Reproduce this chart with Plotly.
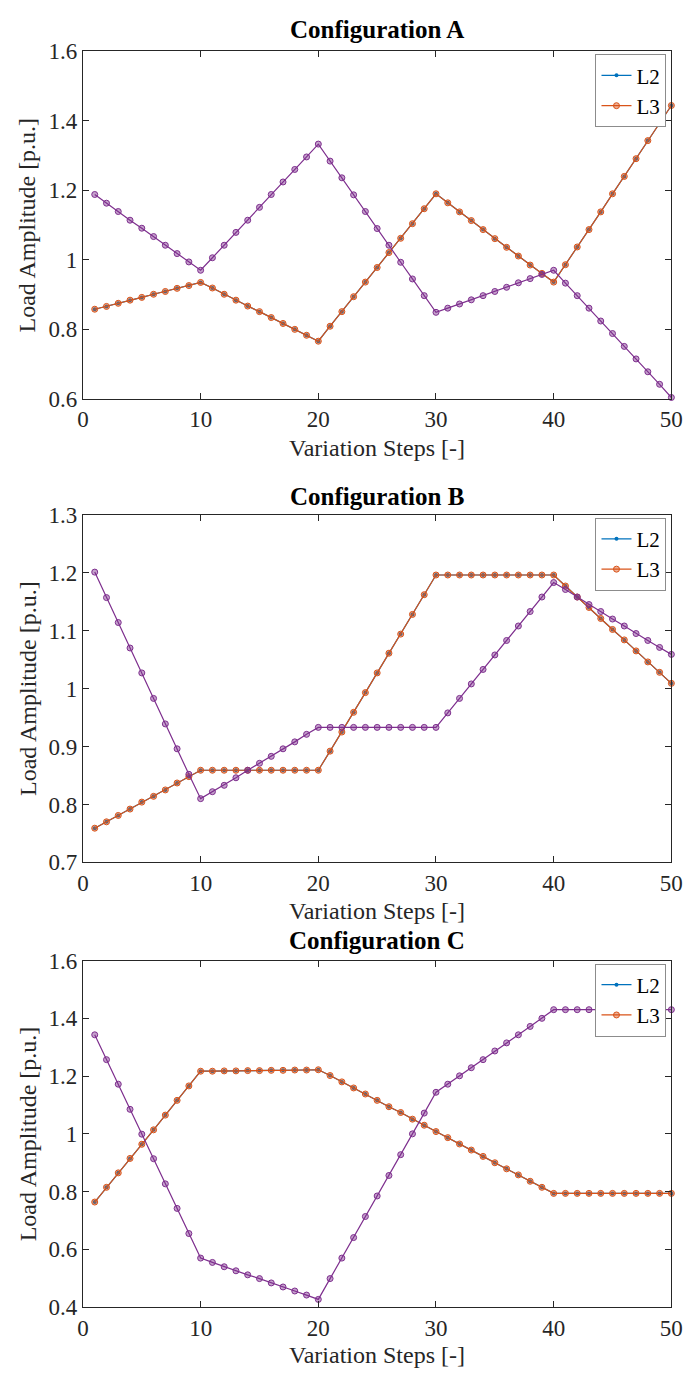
import plotly.graph_objects as go

steps = list(range(1, 51))

# Configuration A
A_L3 = [0.858, 0.866, 0.875, 0.884, 0.892, 0.901, 0.909, 0.918, 0.926, 0.935,
        0.919, 0.901, 0.884, 0.867, 0.851, 0.834, 0.817, 0.800, 0.783, 0.766,
        0.809, 0.851, 0.894, 0.936, 0.978, 1.021, 1.062, 1.104, 1.147, 1.190,
        1.164, 1.138, 1.113, 1.087, 1.061, 1.036, 1.011, 0.985, 0.961, 0.936,
        0.986, 1.037, 1.087, 1.138, 1.190, 1.240, 1.291, 1.343, 1.393, 1.444]
A_L2 = list(A_L3)
A_L1 = [1.188, 1.163, 1.139, 1.114, 1.091, 1.067, 1.042, 1.018, 0.994, 0.970,
        1.006, 1.042, 1.079, 1.114, 1.151, 1.188, 1.224, 1.260, 1.296, 1.333,
        1.284, 1.236, 1.187, 1.139, 1.090, 1.042, 0.993, 0.945, 0.897, 0.849,
        0.861, 0.873, 0.885, 0.897, 0.909, 0.921, 0.934, 0.946, 0.958, 0.970,
        0.933, 0.897, 0.861, 0.824, 0.788, 0.751, 0.715, 0.678, 0.642, 0.604]

# Configuration B
B_L3 = [0.759, 0.770, 0.781, 0.792, 0.804, 0.814, 0.825, 0.837, 0.848, 0.859,
        0.859, 0.859, 0.859, 0.859, 0.859, 0.859, 0.859, 0.859, 0.859, 0.859,
        0.892, 0.925, 0.959, 0.993, 1.027, 1.061, 1.094, 1.128, 1.162, 1.196,
        1.196, 1.196, 1.196, 1.196, 1.196, 1.196, 1.196, 1.196, 1.196, 1.196,
        1.177, 1.158, 1.140, 1.121, 1.102, 1.084, 1.065, 1.046, 1.028, 1.009]
B_L2 = list(B_L3)
B_L1 = [1.201, 1.157, 1.114, 1.070, 1.027, 0.983, 0.939, 0.896, 0.852, 0.810,
        0.822, 0.833, 0.846, 0.859, 0.871, 0.883, 0.896, 0.908, 0.921, 0.933,
        0.933, 0.933, 0.933, 0.933, 0.933, 0.933, 0.933, 0.933, 0.933, 0.933,
        0.958, 0.983, 1.008, 1.033, 1.058, 1.083, 1.108, 1.133, 1.158, 1.183,
        1.171, 1.158, 1.145, 1.133, 1.120, 1.108, 1.095, 1.083, 1.071, 1.059]

# Configuration C
C_L3 = [0.764, 0.815, 0.865, 0.915, 0.964, 1.014, 1.065, 1.116, 1.166, 1.217,
        1.217, 1.218, 1.218, 1.219, 1.219, 1.220, 1.220, 1.221, 1.221, 1.222,
        1.202, 1.180, 1.159, 1.138, 1.116, 1.094, 1.074, 1.051, 1.030, 1.008,
        0.987, 0.965, 0.944, 0.922, 0.900, 0.879, 0.858, 0.836, 0.815, 0.794,
        0.794, 0.794, 0.794, 0.794, 0.794, 0.794, 0.794, 0.794, 0.794, 0.794]
C_L2 = list(C_L3)
C_L1 = [1.343, 1.257, 1.172, 1.085, 0.999, 0.914, 0.827, 0.742, 0.655, 0.570,
        0.555, 0.540, 0.526, 0.512, 0.499, 0.484, 0.470, 0.456, 0.442, 0.427,
        0.499, 0.570, 0.641, 0.714, 0.785, 0.856, 0.928, 1.000, 1.072, 1.144,
        1.172, 1.201, 1.229, 1.257, 1.287, 1.315, 1.343, 1.372, 1.400, 1.430,
        1.430, 1.430, 1.430, 1.430, 1.430, 1.430, 1.430, 1.430, 1.430, 1.430]

titles = ["Configuration A", "Configuration B", "Configuration C"]
y_ranges = [[0.6, 1.6], [0.7, 1.3], [0.4, 1.6]]
y_ticks = [[0.6, 0.8, 1.0, 1.2, 1.4, 1.6],
           [0.7, 0.8, 0.9, 1.0, 1.1, 1.2, 1.3],
           [0.4, 0.6, 0.8, 1.0, 1.2, 1.4, 1.6]]
y_ticktext = [["0.6", "0.8", "1", "1.2", "1.4", "1.6"],
              ["0.7", "0.8", "0.9", "1", "1.1", "1.2", "1.3"],
              ["0.4", "0.6", "0.8", "1", "1.2", "1.4", "1.6"]]
x_ticks = [0, 10, 20, 30, 40, 50]
data = [(A_L2, A_L3, A_L1), (B_L2, B_L3, B_L1), (C_L2, C_L3, C_L1)]

W, H = 697, 1385
x_px = (79, 683)
panels_px = [(40, 394), (512, 866), (966, 1319)]
title_px = [18, 493, 946]
xlabel_px = [444, 916, 1368]

BLUE = "#0072BD"
ORANGE = "#D95319"
PURPLE = "#7E2F8E"
AX = "#262626"
FONT = "Liberation Serif"

fig = go.Figure()
layout = dict(width=W, height=H, margin=dict(l=0, r=0, t=0, b=0),
              paper_bgcolor="white", plot_bgcolor="white",
              font=dict(family=FONT, size=23, color=AX), annotations=[])

for i in range(3):
    sfx = "" if i == 0 else str(i + 1)
    xa, ya = "x" + sfx, "y" + sfx
    leg = "legend" + sfx
    l2, l3, l1 = data[i]
    fig.add_trace(go.Scatter(x=steps, y=l2, name="L2", mode="lines+markers",
                             line=dict(color=BLUE, width=1.2),
                             marker=dict(symbol="circle", size=4, color=BLUE),
                             xaxis=xa, yaxis=ya, legend=leg, cliponaxis=False))
    fig.add_trace(go.Scatter(x=steps, y=l3, name="L3", mode="lines+markers",
                             line=dict(color=ORANGE, width=1.2),
                             marker=dict(symbol="circle", size=6, color="rgba(217,83,25,0.45)",
                                         line=dict(color=ORANGE, width=1)),
                             xaxis=xa, yaxis=ya, legend=leg, cliponaxis=False))
    fig.add_trace(go.Scatter(x=steps, y=l1, name="L1", mode="lines+markers",
                             line=dict(color=PURPLE, width=1.2),
                             marker=dict(symbol="circle", size=6, color="rgba(126,47,142,0.45)",
                                         line=dict(color=PURPLE, width=1)),
                             xaxis=xa, yaxis=ya, showlegend=False, cliponaxis=False))

    top, bot = panels_px[i]
    yd = [1 - bot / H, 1 - top / H]
    xd = [x_px[0] / W, x_px[1] / W]
    axcommon = dict(showline=True, linecolor=AX, linewidth=1, mirror="ticks",
                    ticks="inside", ticklen=6, tickcolor=AX, tickwidth=1,
                    showgrid=False, zeroline=False,
                    tickfont=dict(family=FONT, size=23, color=AX))
    layout["xaxis" + sfx] = dict(domain=xd, range=[0, 50], tickvals=x_ticks,
                                 anchor=ya, **axcommon)
    layout["yaxis" + sfx] = dict(domain=yd, range=y_ranges[i], tickvals=y_ticks[i],
                                 ticktext=y_ticktext[i], anchor=xa, **axcommon)
    layout[leg] = dict(x=678 / W, y=1 - (top + 3) / H, xanchor="right", yanchor="top",
                       bgcolor="white", bordercolor="#8c8c8c", borderwidth=1,
                       font=dict(family=FONT, size=21, color="black"),
                       itemwidth=30, tracegroupgap=0)
    xc = (x_px[0] + x_px[1]) / 2 / W
    layout["annotations"].append(dict(text="<b>" + titles[i] + "</b>", x=xc, y=1 - title_px[i] / H,
                                      xref="paper", yref="paper", showarrow=False,
                                      xanchor="center", yanchor="middle",
                                      font=dict(family=FONT, size=25, color="black")))
    layout["annotations"].append(dict(text="Variation Steps [-]", x=xc, y=1 - xlabel_px[i] / H,
                                      xref="paper", yref="paper", showarrow=False,
                                      xanchor="center", yanchor="middle",
                                      font=dict(family=FONT, size=24, color=AX)))
    layout["annotations"].append(dict(text="Load Amplitude [p.u.]", x=22 / W,
                                      y=1 - (top + bot) / 2 / H, textangle=-90,
                                      xref="paper", yref="paper", showarrow=False,
                                      xanchor="center", yanchor="middle",
                                      font=dict(family=FONT, size=24, color=AX)))

fig.update_layout(**layout)
fig.write_html("out.html")
